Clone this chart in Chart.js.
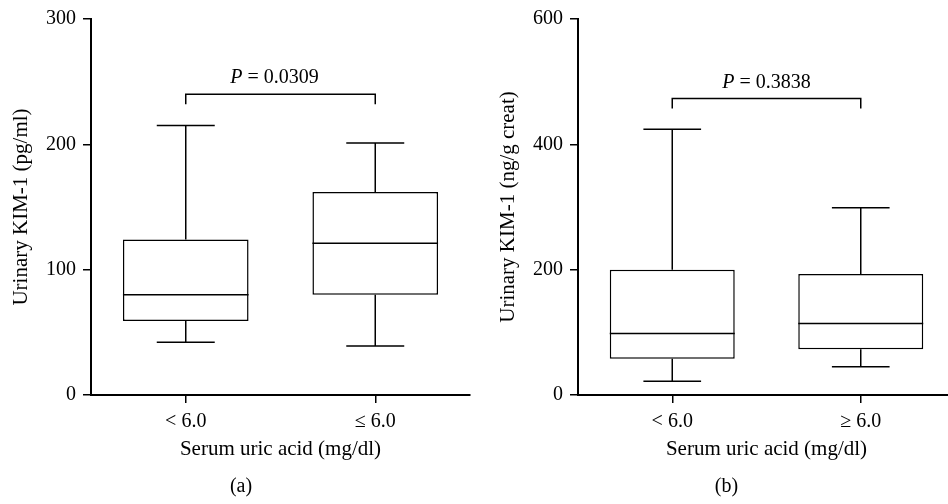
<!DOCTYPE html>
<html>
<head>
<meta charset="utf-8">
<script src="https://cdn.jsdelivr.net/npm/chart.js@4.4.1/dist/chart.umd.min.js"></script>
<style>
  html, body { margin: 0; padding: 0; background: #fff; overflow: hidden; }
  body { width: 948px; height: 504px; position: relative; }
  canvas { position: absolute; top: 0; }
  #graficaA { left: 0; }
  #graficaB { left: 474px; }
</style>
</head>
<body>
<canvas id="graficaA" width="474" height="504"></canvas>
<canvas id="graficaB" width="505" height="504"></canvas>
<script>
// Panel (a): urinary KIM-1 (pg/ml)
const gruposA = ['< 6.0', '\u2264 6.0'];
const minA = [42, 39];
const q1A = [59, 80];
const medianaA = [80, 121];
const q3A = [124, 162];
const maxA = [215, 201];
const ticksA = [0, 100, 200, 300];
const corcheteA = 240;
const valorPA = '0.0309';

// Panel (b): urinary KIM-1 (ng/g creat)
const gruposB = ['< 6.0', '\u2265 6.0'];
const minB = [22, 45];
const q1B = [58, 73];
const medianaB = [98, 114];
const q3B = [200, 193];
const maxB = [424, 299];
const ticksB = [0, 200, 400, 600];
const corcheteB = 473;
const valorPB = '0.3838';

Chart.defaults.font.family = '"Liberation Serif", "Times New Roman", serif';
Chart.defaults.color = '#000';

const FUENTE = '"Liberation Serif", "Times New Roman", serif';

// bigotes, mediana, corchete y valor P dibujados con las escalas del grafico
function cajaBigotes(d) {
    return {
        id: 'cajaBigotes',
        afterDatasetsDraw(chart) {
            const { ctx } = chart;
            const x = chart.scales.x;
            const y = chart.scales.y;
            const meta = chart.getDatasetMeta(0);
            const paso = x.getPixelForValue(1) - x.getPixelForValue(0);
            const tapa = paso * 0.153;

            ctx.save();
            ctx.strokeStyle = '#000';
            ctx.lineWidth = 1.5;
            ctx.beginPath();
            d.min.forEach((v, i) => {
                const cx = x.getPixelForValue(i);
                const medio = meta.data[i].width / 2;
                const yMax = y.getPixelForValue(d.max[i]);
                const yQ3 = y.getPixelForValue(d.q3[i]);
                const yQ1 = y.getPixelForValue(d.q1[i]);
                const yMin = y.getPixelForValue(v);
                const yMed = y.getPixelForValue(d.mediana[i]);
                ctx.moveTo(cx, yMax); ctx.lineTo(cx, yQ3);
                ctx.moveTo(cx - tapa, yMax); ctx.lineTo(cx + tapa, yMax);
                ctx.moveTo(cx, yQ1); ctx.lineTo(cx, yMin);
                ctx.moveTo(cx - tapa, yMin); ctx.lineTo(cx + tapa, yMin);
                ctx.moveTo(cx - medio, yMed); ctx.lineTo(cx + medio, yMed);
            });
            ctx.stroke();

            const x0 = x.getPixelForValue(0);
            const x1 = x.getPixelForValue(1);
            const yb = y.getPixelForValue(d.corchete);
            ctx.beginPath();
            ctx.moveTo(x0, yb + 10);
            ctx.lineTo(x0, yb);
            ctx.lineTo(x1, yb);
            ctx.lineTo(x1, yb + 10);
            ctx.stroke();

            const resto = ' = ' + d.valorP;
            ctx.font = 'italic 20px ' + FUENTE;
            const wP = ctx.measureText('P').width;
            ctx.font = '20px ' + FUENTE;
            const wR = ctx.measureText(resto).width;
            const inicio = (x0 + x1) / 2 + d.desvioP - (wP + wR) / 2;
            ctx.fillStyle = '#000';
            ctx.textAlign = 'left';
            ctx.textBaseline = 'alphabetic';
            ctx.font = 'italic 20px ' + FUENTE;
            ctx.fillText('P', inicio, yb - 11);
            ctx.font = '20px ' + FUENTE;
            ctx.fillText(resto, inicio + wP, yb - 11);
            ctx.restore();
        }
    };
}

function graficaCajas($canvas, d) {
    return new Chart($canvas, {
        type: 'bar',
        data: {
            labels: d.grupos,
            datasets: [{
                data: d.q1.map((v, i) => [v, d.q3[i]]),
                backgroundColor: '#fff',
                borderColor: '#000',
                borderWidth: 1.5,
                borderSkipped: false,
                barPercentage: 0.663,
                categoryPercentage: 1
            }]
        },
        options: {
            responsive: false,
            animation: false,
            layout: { padding: { top: 16, right: d.derecha, left: d.izquierda, bottom: 0 } },
            plugins: {
                legend: { display: false },
                tooltip: { enabled: false },
                title: {
                    display: true,
                    position: 'bottom',
                    text: d.letra,
                    color: '#000',
                    font: { size: 20, weight: 'normal' },
                    padding: { top: 0, bottom: 5 }
                }
            },
            scales: {
                x: {
                    type: 'category',
                    offset: true,
                    afterFit: scale => { scale.height = 80; },
                    grid: { display: true, offset: false, drawOnChartArea: false, drawTicks: true, tickLength: 8, color: '#000', lineWidth: 1.5 },
                    border: { display: true, color: '#000', width: 2 },
                    ticks: { font: { size: 20 }, color: '#000', padding: 7, maxRotation: 0 },
                    title: {
                        display: true,
                        text: 'Serum uric acid (mg/dl)',
                        color: '#000',
                        font: { size: 21 },
                        padding: { top: 0, bottom: 13 }
                    }
                },
                y: {
                    min: d.ticks[0],
                    max: d.ticks[d.ticks.length - 1],
                    afterFit: scale => { scale.width = d.ancho; },
                    afterBuildTicks: scale => { scale.ticks = d.ticks.map(v => ({ value: v })); },
                    grid: { display: true, drawOnChartArea: false, drawTicks: true, tickLength: 8, color: '#000', lineWidth: 1.5 },
                    border: { display: true, color: '#000', width: 2 },
                    ticks: { font: { size: 20 }, color: '#000', padding: 7 },
                    title: {
                        display: true,
                        text: d.tituloY,
                        color: '#000',
                        font: { size: 21, lineHeight: 0.857 },
                        padding: { top: d.tituloPad, bottom: 0 }
                    }
                }
            }
        },
        plugins: [cajaBigotes(d)]
    });
}

graficaCajas(document.querySelector('#graficaA'), {
    grupos: gruposA, min: minA, q1: q1A, mediana: medianaA, q3: q3A, max: maxA,
    ticks: ticksA, corchete: corcheteA, valorP: valorPA,
    tituloY: 'Urinary KIM-1 (pg/ml)', letra: '(a)',
    izquierda: 12, ancho: 79, derecha: 4, tituloPad: 0, desvioP: -6
});

graficaCajas(document.querySelector('#graficaB'), {
    grupos: gruposB, min: minB, q1: q1B, mediana: medianaB, q3: q3B, max: maxB,
    ticks: ticksB, corchete: corcheteB, valorP: valorPB,
    tituloY: 'Urinary KIM-1 (ng/g creat)', letra: '(b)',
    izquierda: 24, ancho: 80, derecha: 24, tituloPad: 1, desvioP: 0
});
</script>
</body>
</html>
